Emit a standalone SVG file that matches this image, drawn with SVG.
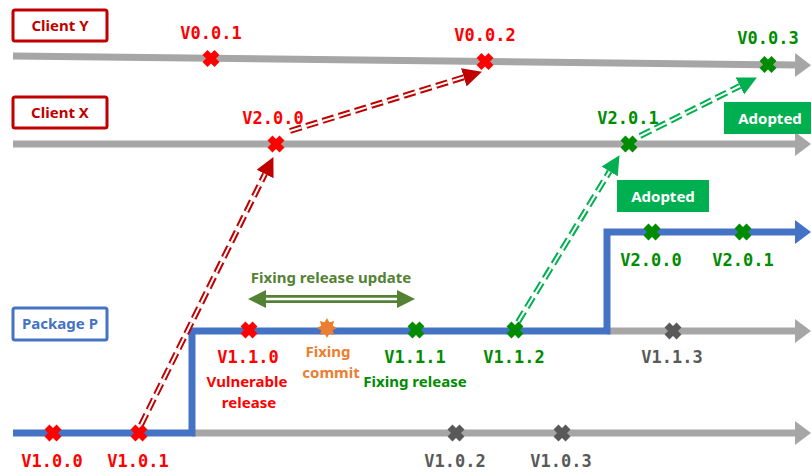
<svg xmlns="http://www.w3.org/2000/svg" xmlns:xlink="http://www.w3.org/1999/xlink" width="811" height="473" viewBox="0 0 811 473">
<style>
.box{fill:#fff;stroke-width:3}
.bt{font-family:"Noto Sans","Open Sans","Liberation Sans",sans-serif;font-weight:bold;font-size:15px;text-anchor:middle}
.mono{font-family:"DejaVu Sans Mono","Liberation Mono",monospace;font-weight:bold;font-size:17px;text-anchor:middle}
.sans{font-family:"Noto Sans","Open Sans","Liberation Sans",sans-serif;font-weight:bold;font-size:15px;text-anchor:middle}
.axis{fill:none;stroke-width:7}
.g{stroke:#A6A6A6}
.b{stroke:#4472C4}
.xm{fill:none;stroke-width:7}
.red{fill:#FF0000}.grn{fill:#008C00}.gry{fill:#595959}.org{fill:#ED7D31}.olv{fill:#548235}
.xr{stroke:#FF0000}.xg{stroke:#008C00}.xd{stroke:#595959}
.dash{fill:none;stroke-width:6;stroke-dasharray:12 5}
.dashw{fill:none;stroke:#fff;stroke-width:2;stroke-dasharray:12 5}
.adopt{fill:#00B050}
</style>
<defs>
<path id="x" d="M-6,-6 L6,6 M6,-6 L-6,6"/>
<marker id="ag" markerUnits="userSpaceOnUse" markerWidth="16" markerHeight="24" refX="0" refY="12" orient="auto" viewBox="0 0 16 24"><path d="M0,0 L16,12 L0,24 z" fill="#A6A6A6"/></marker>
<marker id="ab" markerUnits="userSpaceOnUse" markerWidth="16" markerHeight="24" refX="0" refY="12" orient="auto" viewBox="0 0 16 24"><path d="M0,0 L16,12 L0,24 z" fill="#4472C4"/></marker>
<marker id="ar" markerUnits="userSpaceOnUse" markerWidth="19" markerHeight="19" refX="0" refY="9.5" orient="auto" viewBox="0 0 19 19"><path d="M0,0 L19,9.5 L0,19 z" fill="#C00000"/></marker>
<marker id="agr" markerUnits="userSpaceOnUse" markerWidth="19" markerHeight="19" refX="0" refY="9.5" orient="auto" viewBox="0 0 19 19"><path d="M0,0 L19,9.5 L0,19 z" fill="#00B050"/></marker>
<marker id="ao" markerUnits="userSpaceOnUse" markerWidth="18" markerHeight="18" refX="0" refY="9" orient="auto-start-reverse" viewBox="0 0 18 18"><path d="M0,0 L18,9 L0,18 z" fill="#548235"/></marker>
</defs>

<g id="timelines">
<path class="axis g" d="M13,56 L795,65" marker-end="url(#ag)"/>
<path class="axis g" d="M13,144 H795" marker-end="url(#ag)"/>
<path class="axis g" d="M192,433 H795" marker-end="url(#ag)"/>
<path class="axis g" d="M607,331 H795" marker-end="url(#ag)"/>
<path class="axis b" d="M13,433 H192 V331 H607 V232 H795" marker-end="url(#ab)"/>
</g>

<g id="connectors">
<path class="dash" stroke="#C00000" d="M141,425 L265,174" marker-end="url(#ar)"/>
<path class="dashw" d="M141,425 L265,174"/>
<path class="dash" stroke="#C00000" d="M290,131 L463.8,77.3" marker-end="url(#ar)"/>
<path class="dashw" d="M290,131 L463.8,77.3"/>
<path class="dash" stroke="#00B050" d="M518,322 L609.6,171.4" marker-end="url(#agr)"/>
<path class="dashw" d="M518,322 L609.6,171.4"/>
<path class="dash" stroke="#00B050" d="M640,136 L739.9,86" marker-end="url(#agr)"/>
<path class="dashw" d="M640,136 L739.9,86"/>
<path fill="none" stroke="#548235" stroke-width="8" d="M266,299 H397" marker-start="url(#ao)" marker-end="url(#ao)"/>
<path fill="none" stroke="#fff" stroke-width="2.5" d="M266,299 H397"/>
</g>

<g id="client-y">
<rect class="box" x="13" y="10" width="94" height="31" rx="2" stroke="#C00000"/>
<text class="bt" x="60" y="31" fill="#C00000">Client Y</text>
</g>
<g id="client-x">
<rect class="box" x="13" y="97" width="94" height="31" rx="2" stroke="#C00000"/>
<text class="bt" x="60" y="118" fill="#C00000">Client X</text>
</g>
<g id="package-p">
<rect class="box" x="13" y="308" width="94" height="32" rx="2" stroke="#4472C4"/>
<text class="bt" x="60" y="329" fill="#4472C4">Package P</text>
</g>

<g id="v001"><use xlink:href="#x" class="xm xr" x="211" y="58.5"/><text class="mono red" x="211" y="39">V0.0.1</text></g>
<g id="v002"><use xlink:href="#x" class="xm xr" x="485" y="61.5"/><text class="mono red" x="485" y="41">V0.0.2</text></g>
<g id="v003"><use xlink:href="#x" class="xm xg" x="768" y="64.5"/><text class="mono grn" x="768" y="44">V0.0.3</text></g>
<g id="x200"><use xlink:href="#x" class="xm xr" x="276" y="144"/><text class="mono red" x="273" y="124">V2.0.0</text></g>
<g id="x201"><use xlink:href="#x" class="xm xg" x="629" y="144"/><text class="mono grn" x="628" y="124">V2.0.1</text></g>

<g id="v100"><use xlink:href="#x" class="xm xr" x="53" y="433"/><text class="mono red" x="52" y="467">V1.0.0</text></g>
<g id="v101"><use xlink:href="#x" class="xm xr" x="139" y="433"/><text class="mono red" x="138" y="467">V1.0.1</text></g>
<g id="v102"><use xlink:href="#x" class="xm xd" x="456" y="433"/><text class="mono gry" x="455" y="467">V1.0.2</text></g>
<g id="v103"><use xlink:href="#x" class="xm xd" x="562" y="433"/><text class="mono gry" x="561" y="467">V1.0.3</text></g>

<g id="v110"><use xlink:href="#x" class="xm xr" x="249" y="330"/><text class="mono red" x="248" y="363">V1.1.0</text>
<text class="sans red" x="247" y="387">Vulnerable</text><text class="sans red" x="249" y="408">release</text></g>
<g id="fixing-commit"><polygon class="org" transform="translate(327,328) scale(1.12)" points="0,-9 2.1,-5.08 6.36,-6.36 5.08,-2.1 9,0 5.08,2.1 6.36,6.36 2.1,5.08 0,9 -2.1,5.08 -6.36,6.36 -5.08,2.1 -9,0 -5.08,-2.1 -6.36,-6.36 -2.1,-5.08"/>
<text class="sans org" x="328" y="357">Fixing</text><text class="sans org" x="331" y="378">commit</text></g>
<g id="v111"><use xlink:href="#x" class="xm xg" x="416" y="330"/><text class="mono grn" x="415" y="363">V1.1.1</text>
<text class="sans grn" x="415" y="387">Fixing release</text></g>
<g id="v112"><use xlink:href="#x" class="xm xg" x="515" y="330"/><text class="mono grn" x="514" y="363">V1.1.2</text></g>
<g id="v113"><use xlink:href="#x" class="xm xd" x="673" y="331"/><text class="mono gry" x="672" y="363">V1.1.3</text></g>
<g id="v200"><use xlink:href="#x" class="xm xg" x="652" y="232"/><text class="mono grn" x="651" y="266">V2.0.0</text></g>
<g id="v201"><use xlink:href="#x" class="xm xg" x="743" y="232"/><text class="mono grn" x="743" y="266">V2.0.1</text></g>

<g id="fixing-update"><text class="sans olv" x="331" y="283">Fixing release update</text></g>

<g id="adopted-1"><rect class="adopt" x="724" y="102" width="87" height="32"/><text class="sans" fill="#fff" x="770" y="124">Adopted</text></g>
<g id="adopted-2"><rect class="adopt" x="617" y="180" width="92" height="32"/><text class="sans" fill="#fff" x="663" y="202">Adopted</text></g>
</svg>
